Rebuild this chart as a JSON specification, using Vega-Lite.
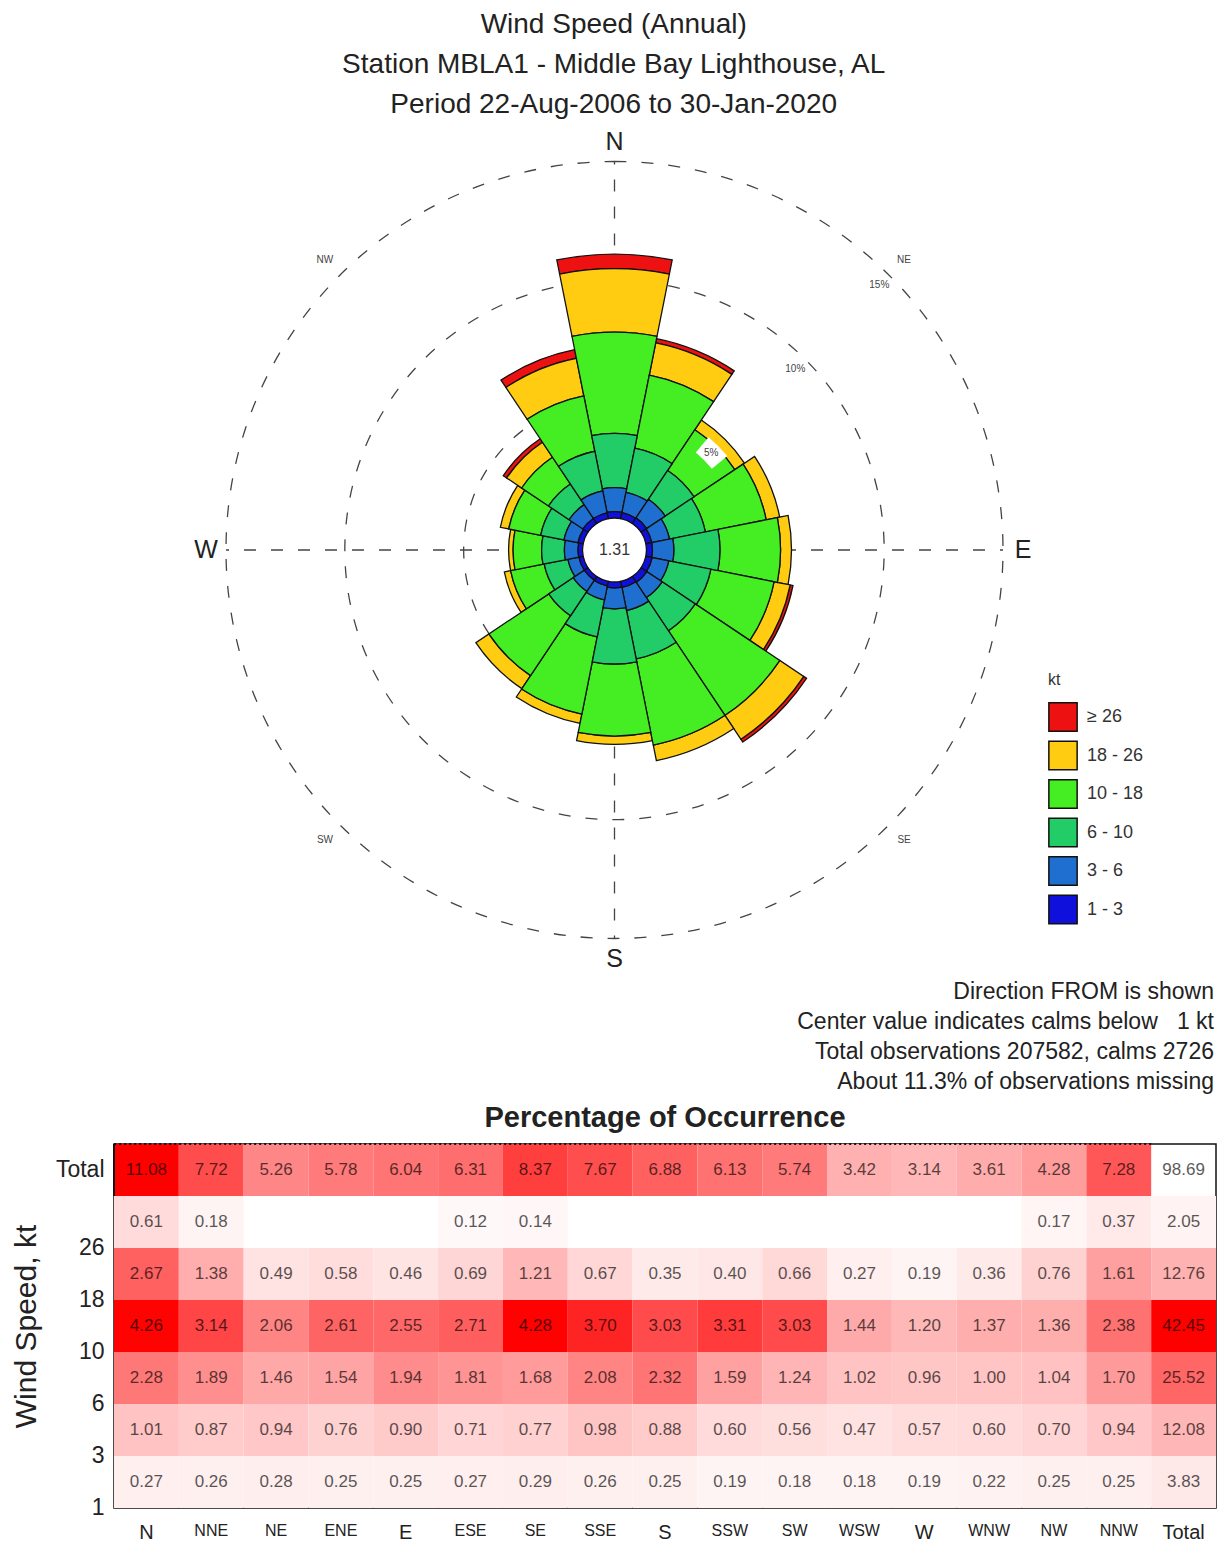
{
  "$schema": "https://vega.github.io/schema/vega-lite/v6.json",
  "background": "white",
  "padding": {"left": 10, "top": 10, "right": 0, "bottom": 0},
  "config": {"font": "Liberation Sans", "view": {"stroke": null}},
  "title": {
    "text": ["Wind Speed (Annual)", "Station MBLA1 - Middle Bay Lighthouse, AL", "Period 22-Aug-2006 to 30-Jan-2020"],
    "fontSize": 28, "fontWeight": "normal", "lineHeight": 40, "anchor": "middle", "color": "#222", "offset": 11
  },
  "spacing": 9,
  "datasets": {
    "wind": [
      {"dir": "N", "bin": "≥ 26", "lo": 26, "pct": 0.61},
      {"dir": "NNE", "bin": "≥ 26", "lo": 26, "pct": 0.18},
      {"dir": "ESE", "bin": "≥ 26", "lo": 26, "pct": 0.12},
      {"dir": "SE", "bin": "≥ 26", "lo": 26, "pct": 0.14},
      {"dir": "NW", "bin": "≥ 26", "lo": 26, "pct": 0.17},
      {"dir": "NNW", "bin": "≥ 26", "lo": 26, "pct": 0.37},
      {"dir": "N", "bin": "18 - 26", "lo": 18, "pct": 2.67},
      {"dir": "NNE", "bin": "18 - 26", "lo": 18, "pct": 1.38},
      {"dir": "NE", "bin": "18 - 26", "lo": 18, "pct": 0.49},
      {"dir": "ENE", "bin": "18 - 26", "lo": 18, "pct": 0.58},
      {"dir": "E", "bin": "18 - 26", "lo": 18, "pct": 0.46},
      {"dir": "ESE", "bin": "18 - 26", "lo": 18, "pct": 0.69},
      {"dir": "SE", "bin": "18 - 26", "lo": 18, "pct": 1.21},
      {"dir": "SSE", "bin": "18 - 26", "lo": 18, "pct": 0.67},
      {"dir": "S", "bin": "18 - 26", "lo": 18, "pct": 0.35},
      {"dir": "SSW", "bin": "18 - 26", "lo": 18, "pct": 0.40},
      {"dir": "SW", "bin": "18 - 26", "lo": 18, "pct": 0.66},
      {"dir": "WSW", "bin": "18 - 26", "lo": 18, "pct": 0.27},
      {"dir": "W", "bin": "18 - 26", "lo": 18, "pct": 0.19},
      {"dir": "WNW", "bin": "18 - 26", "lo": 18, "pct": 0.36},
      {"dir": "NW", "bin": "18 - 26", "lo": 18, "pct": 0.76},
      {"dir": "NNW", "bin": "18 - 26", "lo": 18, "pct": 1.61},
      {"dir": "N", "bin": "10 - 18", "lo": 10, "pct": 4.26},
      {"dir": "NNE", "bin": "10 - 18", "lo": 10, "pct": 3.14},
      {"dir": "NE", "bin": "10 - 18", "lo": 10, "pct": 2.06},
      {"dir": "ENE", "bin": "10 - 18", "lo": 10, "pct": 2.61},
      {"dir": "E", "bin": "10 - 18", "lo": 10, "pct": 2.55},
      {"dir": "ESE", "bin": "10 - 18", "lo": 10, "pct": 2.71},
      {"dir": "SE", "bin": "10 - 18", "lo": 10, "pct": 4.28},
      {"dir": "SSE", "bin": "10 - 18", "lo": 10, "pct": 3.70},
      {"dir": "S", "bin": "10 - 18", "lo": 10, "pct": 3.03},
      {"dir": "SSW", "bin": "10 - 18", "lo": 10, "pct": 3.31},
      {"dir": "SW", "bin": "10 - 18", "lo": 10, "pct": 3.03},
      {"dir": "WSW", "bin": "10 - 18", "lo": 10, "pct": 1.44},
      {"dir": "W", "bin": "10 - 18", "lo": 10, "pct": 1.20},
      {"dir": "WNW", "bin": "10 - 18", "lo": 10, "pct": 1.37},
      {"dir": "NW", "bin": "10 - 18", "lo": 10, "pct": 1.36},
      {"dir": "NNW", "bin": "10 - 18", "lo": 10, "pct": 2.38},
      {"dir": "N", "bin": "6 - 10", "lo": 6, "pct": 2.28},
      {"dir": "NNE", "bin": "6 - 10", "lo": 6, "pct": 1.89},
      {"dir": "NE", "bin": "6 - 10", "lo": 6, "pct": 1.46},
      {"dir": "ENE", "bin": "6 - 10", "lo": 6, "pct": 1.54},
      {"dir": "E", "bin": "6 - 10", "lo": 6, "pct": 1.94},
      {"dir": "ESE", "bin": "6 - 10", "lo": 6, "pct": 1.81},
      {"dir": "SE", "bin": "6 - 10", "lo": 6, "pct": 1.68},
      {"dir": "SSE", "bin": "6 - 10", "lo": 6, "pct": 2.08},
      {"dir": "S", "bin": "6 - 10", "lo": 6, "pct": 2.32},
      {"dir": "SSW", "bin": "6 - 10", "lo": 6, "pct": 1.59},
      {"dir": "SW", "bin": "6 - 10", "lo": 6, "pct": 1.24},
      {"dir": "WSW", "bin": "6 - 10", "lo": 6, "pct": 1.02},
      {"dir": "W", "bin": "6 - 10", "lo": 6, "pct": 0.96},
      {"dir": "WNW", "bin": "6 - 10", "lo": 6, "pct": 1.00},
      {"dir": "NW", "bin": "6 - 10", "lo": 6, "pct": 1.04},
      {"dir": "NNW", "bin": "6 - 10", "lo": 6, "pct": 1.70},
      {"dir": "N", "bin": "3 - 6", "lo": 3, "pct": 1.01},
      {"dir": "NNE", "bin": "3 - 6", "lo": 3, "pct": 0.87},
      {"dir": "NE", "bin": "3 - 6", "lo": 3, "pct": 0.94},
      {"dir": "ENE", "bin": "3 - 6", "lo": 3, "pct": 0.76},
      {"dir": "E", "bin": "3 - 6", "lo": 3, "pct": 0.90},
      {"dir": "ESE", "bin": "3 - 6", "lo": 3, "pct": 0.71},
      {"dir": "SE", "bin": "3 - 6", "lo": 3, "pct": 0.77},
      {"dir": "SSE", "bin": "3 - 6", "lo": 3, "pct": 0.98},
      {"dir": "S", "bin": "3 - 6", "lo": 3, "pct": 0.88},
      {"dir": "SSW", "bin": "3 - 6", "lo": 3, "pct": 0.60},
      {"dir": "SW", "bin": "3 - 6", "lo": 3, "pct": 0.56},
      {"dir": "WSW", "bin": "3 - 6", "lo": 3, "pct": 0.47},
      {"dir": "W", "bin": "3 - 6", "lo": 3, "pct": 0.57},
      {"dir": "WNW", "bin": "3 - 6", "lo": 3, "pct": 0.60},
      {"dir": "NW", "bin": "3 - 6", "lo": 3, "pct": 0.70},
      {"dir": "NNW", "bin": "3 - 6", "lo": 3, "pct": 0.94},
      {"dir": "N", "bin": "1 - 3", "lo": 1, "pct": 0.27},
      {"dir": "NNE", "bin": "1 - 3", "lo": 1, "pct": 0.26},
      {"dir": "NE", "bin": "1 - 3", "lo": 1, "pct": 0.28},
      {"dir": "ENE", "bin": "1 - 3", "lo": 1, "pct": 0.25},
      {"dir": "E", "bin": "1 - 3", "lo": 1, "pct": 0.25},
      {"dir": "ESE", "bin": "1 - 3", "lo": 1, "pct": 0.27},
      {"dir": "SE", "bin": "1 - 3", "lo": 1, "pct": 0.29},
      {"dir": "SSE", "bin": "1 - 3", "lo": 1, "pct": 0.26},
      {"dir": "S", "bin": "1 - 3", "lo": 1, "pct": 0.25},
      {"dir": "SSW", "bin": "1 - 3", "lo": 1, "pct": 0.19},
      {"dir": "SW", "bin": "1 - 3", "lo": 1, "pct": 0.18},
      {"dir": "WSW", "bin": "1 - 3", "lo": 1, "pct": 0.18},
      {"dir": "W", "bin": "1 - 3", "lo": 1, "pct": 0.19},
      {"dir": "WNW", "bin": "1 - 3", "lo": 1, "pct": 0.22},
      {"dir": "NW", "bin": "1 - 3", "lo": 1, "pct": 0.25},
      {"dir": "NNW", "bin": "1 - 3", "lo": 1, "pct": 0.25},
      {"dir": "N", "bin": "Total", "pct": 11.08},
      {"dir": "NNE", "bin": "Total", "pct": 7.72},
      {"dir": "NE", "bin": "Total", "pct": 5.26},
      {"dir": "ENE", "bin": "Total", "pct": 5.78},
      {"dir": "E", "bin": "Total", "pct": 6.04},
      {"dir": "ESE", "bin": "Total", "pct": 6.31},
      {"dir": "SE", "bin": "Total", "pct": 8.37},
      {"dir": "SSE", "bin": "Total", "pct": 7.67},
      {"dir": "S", "bin": "Total", "pct": 6.88},
      {"dir": "SSW", "bin": "Total", "pct": 6.13},
      {"dir": "SW", "bin": "Total", "pct": 5.74},
      {"dir": "WSW", "bin": "Total", "pct": 3.42},
      {"dir": "W", "bin": "Total", "pct": 3.14},
      {"dir": "WNW", "bin": "Total", "pct": 3.61},
      {"dir": "NW", "bin": "Total", "pct": 4.28},
      {"dir": "NNW", "bin": "Total", "pct": 7.28},
      {"dir": "Total", "bin": "≥ 26", "pct": 2.05},
      {"dir": "Total", "bin": "18 - 26", "pct": 12.76},
      {"dir": "Total", "bin": "10 - 18", "pct": 42.45},
      {"dir": "Total", "bin": "6 - 10", "pct": 25.52},
      {"dir": "Total", "bin": "3 - 6", "pct": 12.08},
      {"dir": "Total", "bin": "1 - 3", "pct": 3.83},
      {"dir": "Total", "bin": "Total", "pct": 98.69}
    ],
    "rings": [{"ring": 5, "label": "5%", "deg": 45}, {"ring": 10, "label": "10%", "deg": 45}, {"ring": 15, "label": "15%", "deg": 45}],
    "compass": [{"label": "N", "deg": 0}, {"label": "E", "deg": 90}, {"label": "S", "deg": 180}, {"label": "W", "deg": 270}],
    "inter": [{"label": "NE", "deg": 45}, {"label": "SE", "deg": 135}, {"label": "SW", "deg": 225}, {"label": "NW", "deg": 315}],
    "calm": [{"pct": 1.31}]
  },
  "vconcat": [
    {
      "width": 1001,
      "height": 840,
      "title": {
        "text": ["Direction FROM is shown", "Center value indicates calms below \u00a0 1 kt", "Total observations 207582, calms 2726", "About 11.3% of observations missing"],
        "orient": "bottom", "anchor": "end", "fontSize": 23, "fontWeight": "normal", "lineHeight": 30, "dx": 99, "offset": 9, "color": "#222"
      },
      "layer": [
        {
          "data": {"name": "rings"},
          "mark": {"type": "arc", "filled": false, "fill": null, "stroke": "#444", "strokeWidth": 1.3, "strokeDash": [12, 15], "theta": 0, "theta2": 6.2832},
          "encoding": {
            "radius": {"field": "ring", "type": "quantitative", "stack": null, "scale": {"type": "linear", "domain": [0, 15], "range": [32, 388.5]}},
            "radius2": {"value": 0}
          }
        },
        {
          "data": {"name": "compass"},
          "mark": {"type": "arc", "filled": false, "fill": null, "stroke": "#444", "strokeWidth": 1.3, "strokeDash": [12, 15], "strokeDashOffset": 9},
          "encoding": {
            "theta": {"field": "deg", "type": "quantitative", "stack": null, "scale": {"domain": [0, 360], "range": [0, 6.283185]}},
            "theta2": {"field": "deg"},
            "radius": {"datum": 15, "type": "quantitative", "stack": null},
            "radius2": {"value": 0}
          }
        },
        {
          "data": {"name": "calm"},
          "mark": {"type": "arc", "fill": "white", "stroke": null, "theta": 0, "theta2": 6.2832},
          "encoding": {
            "radius": {"datum": 0, "type": "quantitative", "stack": null},
            "radius2": {"value": 0}
          }
        },
        {
          "data": {"name": "wind"},
          "transform": [
            {"filter": "datum.bin != 'Total' && datum.dir != 'Total'"},
            {"stack": "pct", "groupby": ["dir"], "sort": [{"field": "lo", "order": "ascending"}], "as": ["r0", "r1"]}
          ],
          "mark": {"type": "arc", "stroke": "#111", "strokeWidth": 1.3},
          "encoding": {
            "theta": {"field": "dir", "type": "nominal", "scale": {"type": "band", "domain": ["N","NNE","NE","ENE","E","ESE","SE","SSE","S","SSW","SW","WSW","W","WNW","NW","NNW"], "range": [-0.19635, 6.08684], "paddingInner": 0, "paddingOuter": 0}},
            "radius": {"field": "r1", "type": "quantitative", "stack": null},
            "radius2": {"field": "r0"},
            "color": {
              "field": "bin", "type": "nominal",
              "scale": {"domain": ["≥ 26", "18 - 26", "10 - 18", "6 - 10", "3 - 6", "1 - 3"], "range": ["#EE1111", "#FFCC11", "#44EE22", "#22CC66", "#1F6FD0", "#1010DD"]},
              "legend": {
                "title": "kt", "orient": "none", "legendX": 934, "legendY": 542,
                "titleFontSize": 16, "titleFontWeight": "normal", "titleColor": "#333", "titlePadding": 14,
                "labelFontSize": 18, "labelColor": "#333", "labelOffset": 9,
                "symbolType": "square", "symbolSize": 800, "symbolStrokeColor": "#111", "symbolStrokeWidth": 1.5, "symbolOpacity": 1,
                "rowPadding": 2.5
              }
            }
          }
        },
        {
          "data": {"name": "compass"},
          "mark": {"type": "text", "fontSize": 25, "color": "#222", "radiusOffset": 20},
          "encoding": {
            "theta": {"field": "deg", "type": "quantitative", "stack": null, "scale": {"domain": [0, 360], "range": [0, 6.283185]}},
            "radius": {"datum": 15, "type": "quantitative", "stack": null},
            "text": {"field": "label"}
          }
        },
        {
          "data": {"name": "inter"},
          "mark": {"type": "text", "fontSize": 10, "color": "#444", "radiusOffset": 21},
          "encoding": {
            "theta": {"field": "deg", "type": "quantitative", "stack": null, "scale": {"domain": [0, 360], "range": [0, 6.283185]}},
            "radius": {"datum": 15, "type": "quantitative", "stack": null},
            "text": {"field": "label"}
          }
        },
        {
          "data": {"name": "rings"},
          "transform": [{"filter": "datum.ring == 5"}],
          "mark": {"type": "arc", "fill": "white", "stroke": null, "thetaOffset": -0.09, "theta2Offset": 0.09, "radiusOffset": -4, "radius2Offset": -24},
          "encoding": {
            "theta": {"field": "deg", "type": "quantitative", "stack": null, "scale": {"domain": [0, 360], "range": [0, 6.283185]}},
            "theta2": {"field": "deg"},
            "radius": {"field": "ring", "type": "quantitative", "stack": null},
            "radius2": {"field": "ring"}
          }
        },
        {
          "data": {"name": "rings"},
          "mark": {"type": "text", "fontSize": 10, "color": "#444", "radiusOffset": -14},
          "encoding": {
            "theta": {"field": "deg", "type": "quantitative", "stack": null, "scale": {"domain": [0, 360], "range": [0, 6.283185]}},
            "radius": {"field": "ring", "type": "quantitative", "stack": null},
            "text": {"field": "label"}
          }
        },
        {
          "data": {"name": "calm"},
          "mark": {"type": "text", "fontSize": 16, "color": "#333"},
          "encoding": {"text": {"field": "pct", "type": "quantitative", "format": ".2f"}}
        }
      ],
      "resolve": {"scale": {"theta": "independent"}}
    },
    {
      "width": 1102,
      "height": 364,
      "title": {"text": "Percentage of Occurrence", "fontSize": 29, "fontWeight": "bold", "anchor": "middle", "offset": 10, "color": "#222"},
      "view": {"stroke": "#111", "strokeWidth": 1.5},
      "data": {"name": "wind"},
      "encoding": {
        "x": {
          "field": "dir", "type": "nominal",
          "scale": {"domain": ["N","NNE","NE","ENE","E","ESE","SE","SSE","S","SSW","SW","WSW","W","WNW","NW","NNW","Total"], "paddingInner": 0, "paddingOuter": 0},
          "axis": {
            "title": null, "orient": "bottom", "ticks": false, "domain": false, "labelPadding": 14, "labelAngle": 0, "labelColor": "#222",
            "labelFontSize": {"condition": {"test": "indexof(['N','E','S','W','Total'], datum.value) >= 0", "value": 20}, "value": 16}
          }
        },
        "y": {
          "field": "bin", "type": "nominal",
          "scale": {"domain": ["Total", "≥ 26", "18 - 26", "10 - 18", "6 - 10", "3 - 6", "1 - 3"], "paddingInner": 0, "paddingOuter": 0},
          "axis": {
            "title": "Wind Speed, kt", "titleFontSize": 30, "titleFontWeight": "normal", "titleColor": "#222", "titlePadding": 14,
            "labelFontSize": 23, "labelColor": "#222", "ticks": false, "domain": false, "labelPadding": 10, "labelLineHeight": 26,
            "labelExpr": "datum.value == 'Total' ? 'Total' : ['', replace(split(datum.value, ' - ')[0], '≥ ', '')]"
          }
        }
      },
      "layer": [
        {
          "transform": [{"filter": "datum.bin != 'Total' && datum.dir != 'Total'"}],
          "mark": "rect",
          "encoding": {"color": {"field": "pct", "type": "quantitative", "scale": {"domain": [0, 4.3], "range": ["#ffffff", "#ff0000"], "interpolate": "rgb"}, "legend": null}}
        },
        {
          "transform": [{"filter": "datum.bin == 'Total' && datum.dir != 'Total'"}],
          "mark": "rect",
          "encoding": {"color": {"field": "pct", "type": "quantitative", "scale": {"domain": [0, 11.08], "range": ["#ffffff", "#ff0000"], "interpolate": "rgb"}, "legend": null}}
        },
        {
          "transform": [{"filter": "datum.dir == 'Total' && datum.bin != 'Total'"}],
          "mark": "rect",
          "encoding": {"color": {"field": "pct", "type": "quantitative", "scale": {"domain": [0, 42.45], "range": ["#ffffff", "#ff0000"], "interpolate": "rgb"}, "legend": null}}
        },
        {
          "mark": {"type": "text", "fontSize": 17, "color": "#000", "opacity": 0.65},
          "encoding": {"text": {"field": "pct", "type": "quantitative", "format": ".2f"}}
        },
        {
          "data": {"values": [{}]},
          "mark": {"type": "rule", "stroke": "#111", "strokeWidth": 2},
          "encoding": {"y": {"datum": "≥ 26", "bandPosition": 0}}
        },
        {
          "data": {"values": [{}]},
          "mark": {"type": "rule", "stroke": "#111", "strokeWidth": 2, "strokeDash": [2, 3]},
          "encoding": {"x": {"datum": "Total", "bandPosition": 0}}
        }
      ],
      "resolve": {"scale": {"color": "independent"}}
    }
  ]
}
